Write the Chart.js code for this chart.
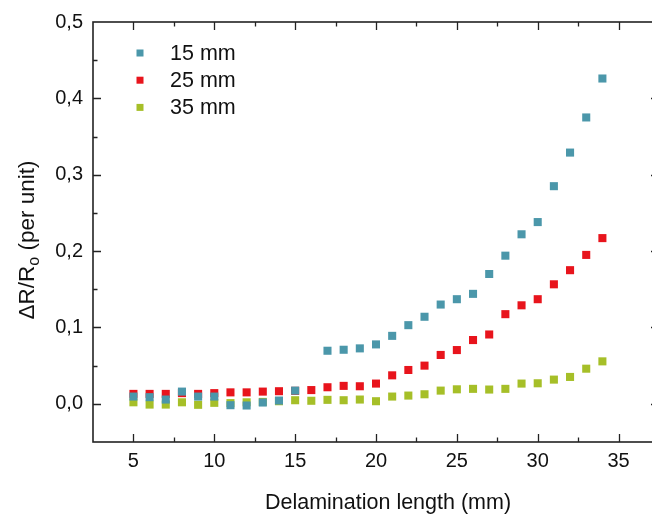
<!DOCTYPE html>
<html>
<head>
<meta charset="utf-8">
<script src="https://cdn.jsdelivr.net/npm/chart.js@4.4.0/dist/chart.umd.min.js"></script>
<style>
  html, body { margin: 0; padding: 0; background: #fff; overflow: hidden; }
  #wrap { width: 652px; height: 518px; overflow: hidden; }
</style>
</head>
<body>
<div id="wrap"><canvas id="delamChart" width="680" height="518"></canvas></div>
<script>
// delamination length (mm)
const lengths = [5, 6, 7, 8, 9, 10, 11, 12, 13, 14, 15, 16, 17, 18, 19, 20,
                 21, 22, 23, 24, 25, 26, 27, 28, 29, 30, 31, 32, 33, 34];

// dR/Ro (per unit) for each sensor distance
const r15mm = [0.0095, 0.0087, 0.0056, 0.016, 0.0095, 0.0095, -0.0018, -0.0022, 0.0017, 0.0043,
               0.0173, null, 0.0695, 0.0708, 0.0726, 0.0778, 0.089, 0.103, 0.114, 0.130,
               0.137, 0.144, 0.170, 0.194, 0.222, 0.238, 0.285, 0.329, 0.375, 0.426];
const r25mm = [0.013, 0.013, 0.013, 0.014, 0.013, 0.014, 0.015, 0.015, 0.016, 0.0165,
               0.017, 0.018, 0.0217, 0.0235, 0.023, 0.0265, 0.0373, 0.0443, 0.050, 0.064,
               0.0704, 0.0835, 0.0908, 0.1174, 0.129, 0.137, 0.1565, 0.175, 0.195, 0.217];
const r35mm = [0.002, -0.001, -0.001, 0.002, -0.0013, 0.0013, 0.0009, 0.002, 0.0025, 0.0034,
               0.0047, 0.004, 0.0052, 0.0047, 0.0056, 0.0034, 0.0095, 0.0108, 0.0125, 0.0173,
               0.019, 0.0196, 0.0187, 0.0196, 0.0265, 0.0269, 0.0317, 0.0352, 0.046, 0.0556];

const seriesLabels = ['15 mm', '25 mm', '35 mm'];
const xTickValues = [5, 10, 15, 20, 25, 30, 35];
const yTickValues = [0, 0.1, 0.2, 0.3, 0.4, 0.5];

const FONT = "'Liberation Sans', Arial, sans-serif";
const colors = ['#4b97aa', '#e8141c', '#a6bf28'];

function toPoints(ys) {
    return lengths.map((x, i) => ({ x: x, y: ys[i] })).filter(p => p.y !== null);
}

// frame with inward major/minor ticks on all four sides
const framePlugin = {
    id: 'frame',
    afterDraw(chart) {
        const { ctx, chartArea: a, scales } = chart;
        const xs = scales.x, ys = scales.y;
        ctx.save();
        ctx.strokeStyle = '#222';
        ctx.lineWidth = 1.6;
        ctx.strokeRect(a.left, a.top, a.right - a.left, a.bottom - a.top);
        ctx.lineWidth = 1.3;
        ctx.beginPath();
        xTickValues.forEach(v => {
            [[v, 8], [v + 2.5, 4.5]].forEach(([t, len]) => {
                if (t >= xs.max) return;
                const px = Math.round(xs.getPixelForValue(t)) + 0.5;
                ctx.moveTo(px, a.bottom); ctx.lineTo(px, a.bottom - len);
                ctx.moveTo(px, a.top); ctx.lineTo(px, a.top + len);
            });
        });
        yTickValues.forEach(v => {
            [[v, 8], [v - 0.05, 4.5]].forEach(([t, len]) => {
                if (t <= ys.min || t >= ys.max) return;
                const py = Math.round(ys.getPixelForValue(t)) + 0.5;
                ctx.moveTo(a.left, py); ctx.lineTo(a.left + len, py);
                ctx.moveTo(a.right, py); ctx.lineTo(a.right - len, py);
            });
        });
        ctx.stroke();
        ctx.restore();
    }
};

// legend inside the plot, top-left
const insideLegend = {
    id: 'insideLegend',
    afterDraw(chart) {
        const { ctx, chartArea: a } = chart;
        ctx.save();
        ctx.font = '21.5px ' + FONT;
        ctx.textBaseline = 'middle';
        chart.data.datasets.forEach((ds, i) => {
            const y = a.top + 31 + i * 27.2;
            ctx.fillStyle = ds.backgroundColor;
            ctx.fillRect(a.left + 43.5, y - 3.5, 7, 7);
            ctx.fillStyle = '#111';
            ctx.fillText(ds.label, a.left + 77, y + 1);
        });
        ctx.restore();
    }
};

// axis titles (y title needs a subscript o)
const axisTitles = {
    id: 'axisTitles',
    afterDraw(chart) {
        const { ctx } = chart;
        ctx.save();
        ctx.fillStyle = '#111';
        ctx.textBaseline = 'alphabetic';
        ctx.font = '21.5px ' + FONT;
        ctx.textAlign = 'center';
        ctx.fillText('Delamination length (mm)', 388, 509);

        ctx.translate(34, 240);
        ctx.rotate(-Math.PI / 2);
        const big = '22.5px ' + FONT, small = '16px ' + FONT;
        ctx.font = big;
        const w1 = ctx.measureText('\u0394R/R').width;
        const w3 = ctx.measureText(' (per unit)').width;
        ctx.font = small;
        const w2 = ctx.measureText('o').width;
        const x0 = -(w1 + w2 + w3) / 2;
        ctx.textAlign = 'left';
        ctx.font = big;
        ctx.fillText('\u0394R/R', x0, 0);
        ctx.font = small;
        ctx.fillText('o', x0 + w1, 5);
        ctx.font = big;
        ctx.fillText(' (per unit)', x0 + w1 + w2, 0);
        ctx.restore();
    }
};

const ctx = document.getElementById('delamChart').getContext('2d');
const delamChart = new Chart(ctx, {
    type: 'scatter',
    data: {
        datasets: [r15mm, r25mm, r35mm].map((ys, i) => ({
            label: seriesLabels[i],
            data: toPoints(ys),
            backgroundColor: colors[i],
            borderColor: colors[i],
            borderWidth: 0,
            pointStyle: 'rect',
            pointRadius: 5.7,
            pointHoverRadius: 5.7
        }))
    },
    options: {
        responsive: false,
        animation: false,
        layout: { padding: { left: 0, right: 21, top: 20, bottom: 0 } },
        plugins: {
            legend: { display: false },
            tooltip: { enabled: false }
        },
        scales: {
            x: {
                type: 'linear',
                min: 2.5,
                max: 37.5,
                grid: { display: false, drawTicks: false },
                border: { display: false },
                afterBuildTicks: scale => { scale.ticks = xTickValues.map(v => ({ value: v })); },
                afterFit: scale => { scale.height = 76; },
                ticks: {
                    padding: 7,
                    color: '#111',
                    font: { family: FONT, size: 20 },
                    maxRotation: 0
                }
            },
            y: {
                type: 'linear',
                min: -0.05,
                max: 0.5,
                grid: { display: false, drawTicks: false },
                border: { display: false },
                afterBuildTicks: scale => { scale.ticks = yTickValues.map(v => ({ value: v })); },
                afterFit: scale => { scale.width = 93; },
                ticks: {
                    padding: 10,
                    color: '#111',
                    font: { family: FONT, size: 20 },
                    callback: value => value.toFixed(1).replace('.', ',')
                }
            }
        }
    },
    plugins: [framePlugin, insideLegend, axisTitles]
});
</script>
</body>
</html>
